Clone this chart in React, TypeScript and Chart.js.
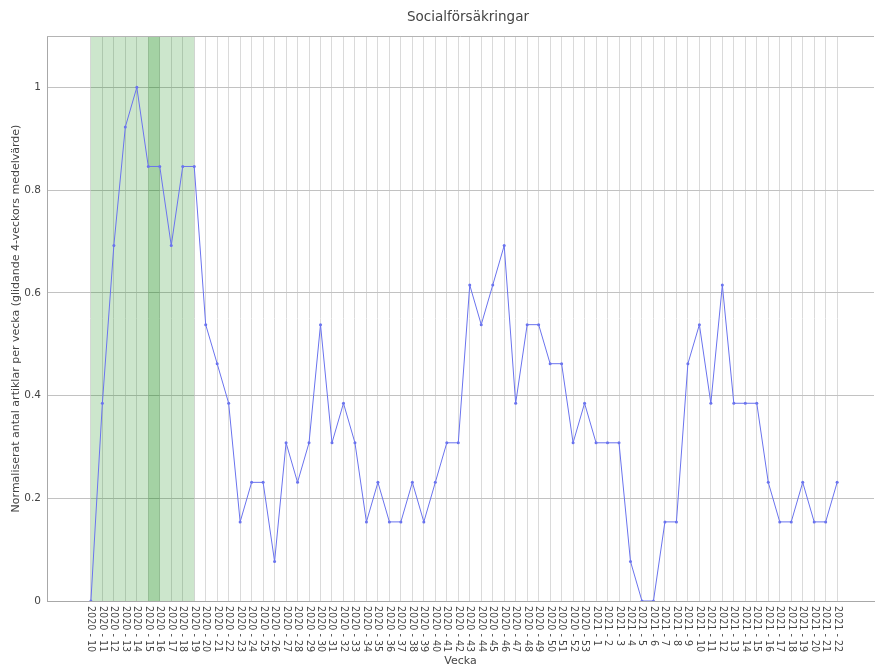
import React, { useEffect, useRef } from 'react';
import { Chart, registerables } from 'chart.js';

Chart.register(...registerables);

const weeks = [
  '2020 - 10', '2020 - 11', '2020 - 12', '2020 - 13', '2020 - 14', '2020 - 15', '2020 - 16', '2020 - 17',
  '2020 - 18', '2020 - 19', '2020 - 20', '2020 - 21', '2020 - 22', '2020 - 23', '2020 - 24', '2020 - 25',
  '2020 - 26', '2020 - 27', '2020 - 28', '2020 - 29', '2020 - 30', '2020 - 31', '2020 - 32', '2020 - 33',
  '2020 - 34', '2020 - 35', '2020 - 36', '2020 - 37', '2020 - 38', '2020 - 39', '2020 - 40', '2020 - 41',
  '2020 - 42', '2020 - 43', '2020 - 44', '2020 - 45', '2020 - 46', '2020 - 47', '2020 - 48', '2020 - 49',
  '2020 - 50', '2020 - 51', '2020 - 52', '2020 - 53', '2021 - 1', '2021 - 2', '2021 - 3', '2021 - 4',
  '2021 - 5', '2021 - 6', '2021 - 7', '2021 - 8', '2021 - 9', '2021 - 10', '2021 - 11', '2021 - 12',
  '2021 - 13', '2021 - 14', '2021 - 15', '2021 - 16', '2021 - 17', '2021 - 18', '2021 - 19', '2021 - 20',
  '2021 - 21', '2021 - 22',
];

const values = [
  0, 0.385, 0.692, 0.923, 1, 0.846, 0.846, 0.692,
  0.846, 0.846, 0.538, 0.462, 0.385, 0.154, 0.231, 0.231,
  0.077, 0.308, 0.231, 0.308, 0.538, 0.308, 0.385, 0.308,
  0.154, 0.231, 0.154, 0.154, 0.231, 0.154, 0.231, 0.308,
  0.308, 0.615, 0.538, 0.615, 0.692, 0.385, 0.538, 0.538,
  0.462, 0.462, 0.308, 0.385, 0.308, 0.308, 0.308, 0.077,
  0, 0, 0.154, 0.154, 0.462, 0.538, 0.385, 0.615,
  0.385, 0.385, 0.385, 0.231, 0.154, 0.154, 0.231, 0.154,
  0.154, 0.231,
];

const yTickValues = [0, 0.2, 0.4, 0.6, 0.8, 1];
const highlightFrom = ['2020 - 10', '2020 - 15'];
const highlightTo = ['2020 - 16', '2020 - 19'];

const chartTitle = 'Socialförsäkringar';
const yTitle = 'Normaliserat antal artiklar per vecka (glidande 4-veckors medelvärde)';
const xTitle = 'Vecka';

const FONT = '"DejaVu Sans", Verdana, Arial, sans-serif';
const TEXT = '#444';

const decorPlugin = {
  id: 'decor',
  beforeDatasetsDraw(chart: any) {
    const { ctx, chartArea: a, scales } = chart;
    const x = scales.x;
    ctx.save();
    ctx.fillStyle = 'rgba(0,128,0,0.2)';
    highlightFrom.forEach((f, i) => {
      const x0 = x.getPixelForValue(weeks.indexOf(f));
      const x1 = x.getPixelForValue(weeks.indexOf(highlightTo[i]));
      ctx.fillRect(x0, a.top, x1 - x0, a.bottom - a.top);
    });
    ctx.strokeStyle = '#b4b4b4';
    ctx.lineWidth = 1;
    ctx.beginPath();
    ctx.moveTo(a.left, Math.round(a.top) + 0.5);
    ctx.lineTo(a.right, Math.round(a.top) + 0.5);
    ctx.stroke();
    ctx.restore();
  },
  afterDraw(chart: any) {
    const { ctx, chartArea: a, scales } = chart;
    const x = scales.x;
    ctx.save();
    ctx.fillStyle = TEXT;
    ctx.font = `9.6px ${FONT}`;
    ctx.textAlign = 'left';
    ctx.textBaseline = 'middle';
    weeks.forEach((w, i) => {
      const px = x.getPixelForValue(i);
      ctx.save();
      ctx.translate(px, a.bottom + 5);
      ctx.rotate(Math.PI / 2);
      ctx.fillText(w, 0, 0);
      ctx.restore();
    });
    ctx.font = `13.5px ${FONT}`;
    ctx.textAlign = 'center';
    ctx.fillText(chartTitle, 468, 17);
    ctx.restore();
  },
};

export default function App() {
  const ref = useRef<HTMLCanvasElement | null>(null);

  useEffect(() => {
    if (!ref.current) return;
    const chart = new Chart(ref.current, {
      type: 'line',
      data: {
        datasets: [
          {
            data: values.map((v, i) => ({ x: i, y: v })),
            borderColor: '#6a73ee',
            backgroundColor: '#6a73ee',
            borderWidth: 1,
            pointRadius: 1.5,
            pointHoverRadius: 2,
            pointBorderWidth: 0,
            tension: 0,
          },
        ],
      },
      options: {
        animation: false,
        responsive: false,
        devicePixelRatio: 1,
        layout: { padding: { top: 36, left: 0, right: 0, bottom: 0 } },
        plugins: {
          legend: { display: false },
          tooltip: { enabled: false },
          title: { display: false },
        },
        scales: {
          x: {
            type: 'linear',
            min: -3.823,
            max: 68.21,
            afterBuildTicks: (scale: any) => {
              scale.ticks = weeks.map((_, i) => ({ value: i }));
            },
            afterFit: (scale: any) => {
              scale.height = 67;
            },
            ticks: { display: false },
            grid: { color: '#dadada', drawTicks: false, lineWidth: 1 },
            border: { color: '#a8a8a8', width: 1 },
            title: {
              display: true,
              text: xTitle,
              color: TEXT,
              font: { family: FONT, size: 11 },
              padding: { top: 0, bottom: 0 },
            },
          },
          y: {
            type: 'linear',
            min: 0,
            max: 1.1,
            afterBuildTicks: (scale: any) => {
              scale.ticks = yTickValues.map((v) => ({ value: v }));
            },
            afterFit: (scale: any) => {
              scale.width = 47;
            },
            ticks: {
              color: TEXT,
              font: { family: FONT, size: 10.5 },
              padding: 6,
              callback: (v: any) => String(+Number(v).toFixed(1)),
            },
            grid: { color: '#c2c2c2', drawTicks: false, lineWidth: 1 },
            border: { color: '#a8a8a8', width: 1 },
            title: {
              display: true,
              text: yTitle,
              color: TEXT,
              font: { family: FONT, size: 11 },
              padding: { top: 10, bottom: 0 },
            },
          },
        },
      },
      plugins: [decorPlugin],
    });
    return () => chart.destroy();
  }, []);

  return (
    <div style={{ position: 'absolute', left: 0, top: 0, width: 876, height: 668, background: '#fff' }}>
      <canvas ref={ref} width={876} height={668} />
    </div>
  );
}
